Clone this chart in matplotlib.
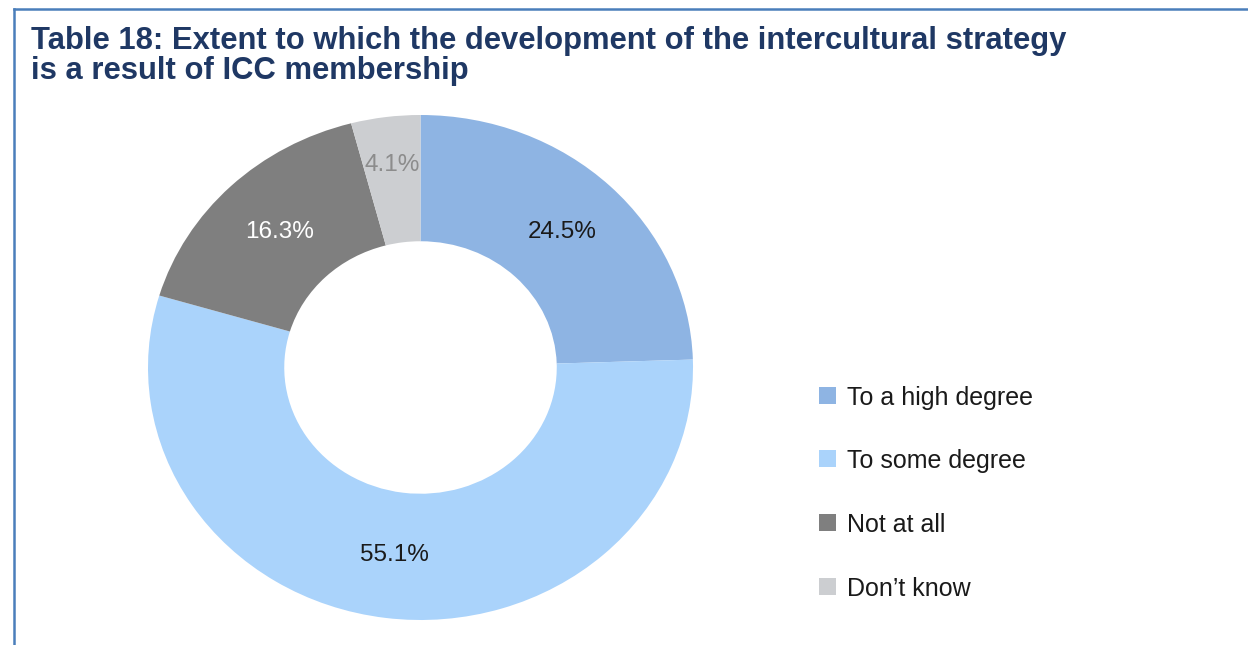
import matplotlib
matplotlib.use("Agg")
import matplotlib.pyplot as plt
from matplotlib.lines import Line2D
from matplotlib.patches import Rectangle
import numpy as np

plt.rcParams['font.family'] = ['Liberation Sans', 'DejaVu Sans']

categories = ["To a high degree", "To some degree", "Not at all", "Don\u2019t know"]
values = [24.5, 55.1, 16.3, 4.1]
colors = ["#8EB4E3", "#AAD3FB", "#7F7F7F", "#CCCED1"]
label_colors = ["#1A1A1A", "#1A1A1A", "#FFFFFF", "#8C8C8C"]
label_radii = [0.745, 0.75, 0.745, 0.81]
title = "Table 18: Extent to which the development of the intercultural strategy\nis a result of ICC membership"

W, H = 1248, 645
fig = plt.figure(figsize=(W / 100, H / 100), dpi=100)
fig.patch.set_facecolor("white")

# border lines
fig.add_artist(Line2D([14 / W, 1.0], [1 - 9 / H, 1 - 9 / H], color="#4A7EBB", lw=1.8))
fig.add_artist(Line2D([14 / W, 14 / W], [0, 1 - 9 / H], color="#4A7EBB", lw=1.8))

fig.text(31 / W, 1 - 49 / H, title.split("\n")[0], ha="left", va="baseline",
         fontsize=22.3, fontweight="bold", color="#1F3864")
fig.text(31 / W, 1 - 79 / H, title.split("\n")[1], ha="left", va="baseline",
         fontsize=22.3, fontweight="bold", color="#1F3864")

cx, cy, rx, ry = 420.5, 367.5, 272.5, 252.5
ax = fig.add_axes([(cx - rx) / W, (H - cy - ry) / H, 2 * rx / W, 2 * ry / H])
wedges, _ = ax.pie(values, colors=colors, startangle=90, counterclock=False,
                   radius=1.0, wedgeprops=dict(width=0.5, edgecolor="none"))
ax.set_aspect("auto")
cum = 0
for v, lc, rr in zip(values, label_colors, label_radii):
    mid = 90 - (cum + v / 2) / 100 * 360
    cum += v
    ax.text(rr * np.cos(np.radians(mid)), rr * np.sin(np.radians(mid)), f"{v:.1f}%",
            ha="center", va="center", fontsize=17.5, color=lc)
ax.set_xlim(-1, 1)
ax.set_ylim(-1, 1)
ax.axis("off")

# legend
for i, (c, name) in enumerate(zip(colors, categories)):
    yc = 395 + i * 63.7
    fig.add_artist(Rectangle((819 / W, 1 - (yc + 8.5) / H), 17 / W, 17 / H,
                             facecolor=c, edgecolor="none", transform=fig.transFigure))
    fig.text(847 / W, 1 - yc / H, name, ha="left", va="center_baseline",
             fontsize=18, color="#1A1A1A")

fig.savefig("out.png", dpi=100, facecolor="white")
